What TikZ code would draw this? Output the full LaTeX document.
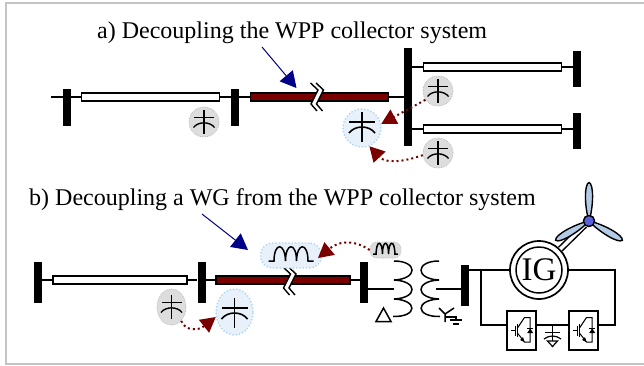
\documentclass[tikz,border=0pt]{standalone}
\usepackage{fontspec}
\setmainfont{Liberation Serif}
\usetikzlibrary{arrows.meta,shapes.geometric}
\definecolor{darkred}{HTML}{7A0000}
\definecolor{navyb}{HTML}{000088}
\definecolor{blobblue}{HTML}{E8F1F9}
\definecolor{dotblue}{HTML}{A6D3F5}
\definecolor{blobgray}{HTML}{DDDDDD}
\definecolor{bladeblue}{HTML}{B4CBE6}
\definecolor{hubblue}{HTML}{5A5FDC}
\definecolor{frameg}{HTML}{C4C4C4}
\tikzset{
  x=1pt,y=-1pt,
  wire/.style={line width=1.5pt,black},
  busbar/.style={fill=black,draw=none,inner sep=0pt,minimum width=8pt},
  whiteline/.style={draw=black,fill=white,line width=1.8pt,inner sep=0pt,minimum height=8pt},
  redline/.style={draw=black,fill=darkred,line width=1.8pt,inner sep=0pt,minimum height=8pt},
  grayblob/.style={circle,fill=blobgray,draw=blobgray!85!black,densely dotted,line width=0.8pt,inner sep=0pt,minimum size=30pt},
  blueblob/.style={circle,fill=blobblue,draw=dotblue,dotted,line width=1.3pt,inner sep=0pt,minimum size=38pt},
  blueellipse/.style={rounded corners=12pt,rectangle,fill=blobblue,draw=dotblue,dotted,line width=1.3pt,inner sep=0pt},
  grayellipse/.style={rounded corners=7pt,rectangle,fill=blobgray,draw=blobgray!85!black,densely dotted,line width=0.8pt,inner sep=0pt},
  bluearrow/.style={navyb,line width=1pt,-{Triangle[length=16pt,width=17pt]}},
  redarrow/.style={darkred,line width=2pt,dash pattern=on 2pt off 3pt,-{Triangle[length=15pt,width=16pt]}},
  capt/.style={font=\fontsize{24pt}{28pt}\selectfont,anchor=base west,inner sep=0pt},
  convbox/.style={draw=black,fill=white,line width=1.9pt,inner sep=0pt,minimum width=29pt,minimum height=39pt},
  pics/capsym/.style={code={
    \draw[line width=1.4pt] (0,-12)--(0,12);
    \draw[line width=1.4pt] (-10,-4.5)--(10,-4.5);
    \draw[line width=1.4pt] (-10.5,5.5) .. controls (-6,-0.7) and (6,-0.7) .. (10.5,5.5);
  }},
  pics/capbig/.style={code={
    \draw[line width=1.6pt] (0,-16)--(0,14);
    \draw[line width=1.6pt] (-13,-6)--(13,-6);
    \draw[line width=1.6pt] (-13,5) .. controls (-7,-3) and (7,-3) .. (13,5);
  }},
  pics/indsym/.style={code={
    \draw[line width=1.5pt] (-22.5,0) -- (-17,0)
      .. controls (-17,-19) and (-6,-19) .. (-5.5,0)
      .. controls (-5.5,-19) and (5.5,-19) .. (5.5,0)
      .. controls (6,-19) and (17,-19) .. (17,0) -- (22.5,0);
  }},
  pics/breaksym/.style={code={
    \fill[white] (-3.5,-14)--(4,-7)--(-3,7)--(3,14)--(8.5,14)--(2.5,7)--(9.5,-7)--(2,-14)--cycle;
    \draw[line width=1.4pt] (-3.5,-14)--(4,-7)--(-3,7)--(3,14);
    \draw[line width=1.4pt] (2,-14)--(9.5,-7)--(2.5,7)--(8.5,14);
  }},
  pics/igbt/.style={code={
    \draw[line width=1pt] (-10.7,0)--(-6,0) (-6,-5)--(-6,5);
    \draw[line width=1.3pt] (-3.7,-6.5)--(-3.7,6.5);
    \draw[line width=1pt] (-3.7,-3)--(3,-13)--(8.7,-13)--(8.7,11.5)--(3,11.5)--(-3.7,3);
    \fill (3,11.5)--(-1.5,9.5)--(1.5,6.5)--cycle;
    \fill (5.7,2.5)--(11.7,2.5)--(8.7,-2)--cycle;
    \draw[line width=1pt] (5.7,-2.3)--(11.7,-2.3);
  }},
  pics/blade/.style={code={
    \draw[fill=bladeblue,line width=1.4pt] (0,0) .. controls (-4.5,-14) and (-5,-37) .. (0,-38.5) .. controls (5,-37) and (4.5,-14) .. (0,0) -- cycle;
  }},
}
\begin{document}
\begin{tikzpicture}
\useasboundingbox (0,0) rectangle (644,365);
\draw[frameg,line width=2pt] (644,3)--(5.5,3)--(5.5,364)--(644,364);

% ---- part a
\node[capt] (ta) at (97,38) {a) Decoupling the WPP collector system};
\node[busbar,minimum height=37pt] (b1) at (66.5,107.5) {};
\node[whiteline,minimum width=138pt] (l1) at (150.5,97) {};
\node[busbar,minimum height=37pt] (b2) at (235,107.5) {};
\node[redline,minimum width=138pt] (r1) at (319.5,97) {};
\node[busbar,minimum height=98pt] (b3) at (408,97) {};
\node[whiteline,minimum width=138pt] (l2) at (492.5,67) {};
\node[busbar,minimum height=36pt] (b4) at (577,69) {};
\node[whiteline,minimum width=138pt] (l3) at (492.5,129) {};
\node[busbar,minimum height=36pt] (b5) at (577,131) {};
\coordinate (a0) at (51,97);
\draw[wire] (a0) -- (b1.center |- a0);
\draw[wire] (b1.east |- l1.west) -- (l1.west);
\draw[wire] (l1.east) -- (b2.west |- l1.east);
\draw[wire] (b2.east |- r1.west) -- (r1.west);
\draw[wire] (r1.east) -- (b3.west |- r1.east);
\draw[wire] (b3.east |- l2.west) -- (l2.west);
\draw[wire] (l2.east) -- (b4.west |- l2.east);
\draw[wire] (b3.east |- l3.west) -- (l3.west);
\draw[wire] (l3.east) -- (b5.west |- l3.east);
\draw[line width=1.8pt] (173,93)--(205,93);
\pic at (314,97) {breaksym};
\node[grayblob] (g1) at (204,122) {};
\pic at (g1) {capsym};
\node[grayblob] (g2) at (438,91) {};
\pic at (g2) {capsym};
\node[grayblob] (g3) at (438,153) {};
\pic at (g3) {capsym};
\node[blueblob] (c1) at (362,128) {};
\pic at (c1) {capbig};
\coordinate (arra) at (262,47);
\coordinate (arrb) at (296.5,88);
\draw[bluearrow] (arra) -- (arrb);
\draw[redarrow] (g2.215) -- (c1.12);
\draw[redarrow] (g3.188) .. controls (400,163) and (385,163) .. (c1.-68);

% ---- part b
\node[capt] (tb) at (29,205) {b) Decoupling a WG from the WPP collector system};
\node[busbar,minimum height=41pt] (b6) at (38,282.5) {};
\node[whiteline,minimum width=134pt] (l4) at (120,280) {};
\node[busbar,minimum height=41pt] (b7) at (201.5,282.5) {};
\node[redline,minimum width=134pt] (r2) at (283,280) {};
\node[busbar,minimum height=41pt] (b8) at (364,282.5) {};
\draw[wire] (b6.east |- l4.west) -- (l4.west);
\draw[wire] (l4.east) -- (b7.west |- l4.east);
\draw[wire] (b7.east |- r2.west) -- (r2.west);
\draw[wire] (r2.east) -- (b8.west |- r2.east);
\pic at (286.5,281) {breaksym};
\node[blueellipse,minimum width=61pt,minimum height=25pt] (ind1) at (291,255.5) {};
\pic at (291,261) {indsym};
\node[grayellipse,minimum width=31pt,minimum height=16pt] (ind2) at (385.5,250) {};
\pic[xscale=.55,yscale=.75] at (385.5,254) {indsym};
\node[ellipse,fill=blobgray,draw=blobgray!85!black,densely dotted,line width=0.8pt,inner sep=0pt,minimum width=29pt,minimum height=36pt] (g4) at (171.5,307) {};
\pic at (g4) {capsym};
\node[ellipse,fill=blobblue,draw=dotblue,dotted,line width=1.3pt,inner sep=0pt,minimum width=37pt,minimum height=46pt] (c2) at (234.5,312) {};
\pic at ([yshift=-2pt]c2.center) {capbig};
\coordinate (arrc) at (202,214);
\coordinate (arrd) at (248,250);
\coordinate (tipb) at (318,258);
\draw[bluearrow] (arrc) -- (arrd);
\draw[redarrow] (g4.-55) .. controls (185,331) and (198,331) .. (c2.195);
\draw[redarrow] (ind2.west) .. controls (355,240) and (340,240) .. (tipb);

% transformer
\coordinate (tp) at (394,289);
\coordinate (ts) at (436,289);
\draw[line width=1.5pt] (394,261) .. controls (418,261) and (418,279) .. (394,280)
  .. controls (418,281) and (418,298) .. (394,299)
  .. controls (418,300) and (418,317) .. (393,316.5);
\draw[line width=1.5pt] (439,261) .. controls (415,261) and (415,279) .. (439,280)
  .. controls (415,281) and (415,298) .. (439,299)
  .. controls (415,300) and (415,317) .. (440,316.5);
\draw[wire] (b8.east |- tp) -- (tp);
\node[busbar,minimum height=41pt] (b9) at (465,285.5) {};
\draw[wire] (ts) -- (b9.west |- ts);
\draw[line width=1.5pt] (376,321.5)--(391,321.5)--(383.5,308)--cycle;
\draw[line width=1.5pt] (439,308)--(445,314)--(454,308) (445,314)--(445,322);
\draw[line width=1.3pt] (445,317)--(456,317)--(456,320) (450,320)--(462,320) (453,324)--(459,324);

% generator
\node[circle,draw=black,line width=1.7pt,fill=white,minimum size=58pt,inner sep=0pt] (ig) at (539,270) {};
\node[circle,draw=black,line width=1.5pt,fill=white,minimum size=46pt,inner sep=-4pt,font=\fontsize{33pt}{36pt}\selectfont] (igin) at (539,270) {IG};
\node[circle,fill=hubblue,draw=black,line width=1.3pt,minimum size=11pt,inner sep=0pt] (hub) at (589,221) {};
\draw[black,line width=6.5pt] (ig) -- (hub);
\draw[white,line width=3.5pt] (ig) -- (hub);
\pic at (hub) {blade};
\pic[rotate=120] at (hub) {blade};
\pic[rotate=-120] at (hub) {blade};
\node[circle,fill=hubblue,draw=black,line width=1.3pt,minimum size=11pt,inner sep=0pt] at (hub) {};

% converter
\node[convbox] (cv1) at (521.5,330.5) {};
\node[convbox] (cv2) at (583.5,330.5) {};
\pic at (cv1) {igbt};
\pic at (cv2) {igbt};
\coordinate (lft) at (481,325);
\coordinate (rgt) at (615,325);
\draw[wire] (b9.east |- ig.west) -- (ig.west);
\draw[wire] (lft |- ig.west) -- (lft) -- (cv1.west |- lft);
\draw[wire] (ig.east) -- (rgt |- ig.east) -- (rgt) -- (cv2.east |- rgt);
\draw[wire] (cv1.east |- lft) -- (cv2.west |- lft);
\draw[line width=1.2pt] (552.5,325)--(552.5,341);
\draw[line width=1.2pt] (545,332.5)--(560,332.5);
\draw[line width=1.2pt] (544,339) .. controls (549,335) and (556,335) .. (561,339);
\draw[line width=1.2pt] (547.5,341)--(557.5,341)--(552.5,346.5)--cycle;
\end{tikzpicture}
\end{document}
